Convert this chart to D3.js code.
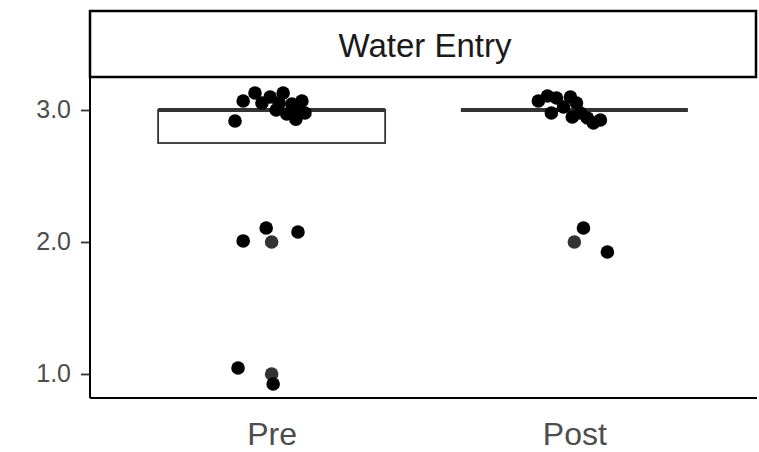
<!DOCTYPE html>
<html><head><meta charset="utf-8">
<script src="https://cdn.jsdelivr.net/npm/d3@7"></script>
<style>body{margin:0;background:#fff}svg{display:block}</style>
</head><body><svg id="c" width="759" height="452"></svg>
<script>
const categories = ["Pre", "Post"];
const stripTitle = "Water Entry";
const yTicks = [1, 2, 3];
// box stats: lower hinge, median, upper hinge
const boxLower = [2.75, 3.0];
const boxMedian = [3.0, 3.0];
const boxUpper = [3.0, 3.0];
// outliers drawn by the boxplot (at category centre)
const outlierCat = ["Pre", "Pre", "Post"];
const outlierVal = [2.0, 1.0, 2.0];
// jittered points: category, x offset (category units), jittered value
const ptCat = ["Pre","Pre","Pre","Pre","Pre","Pre","Pre","Pre","Pre","Pre","Pre","Pre","Pre","Pre",
  "Pre","Pre","Pre","Pre","Pre",
  "Post","Post","Post","Post","Post","Post","Post","Post","Post","Post","Post","Post","Post","Post"];
const ptDx = [-0.121,-0.094,-0.055,-0.032,-0.005,0.015,0.038,0.050,0.067,0.080,0.100,0.110,0.090,0.025,
  -0.094,-0.018,0.087,-0.111,0.005,
  -0.119,-0.089,-0.059,-0.076,-0.036,-0.013,0.007,0.020,0.043,0.063,0.086,-0.007,0.030,0.109];
const ptVal = [2.917,3.068,3.129,3.053,3.098,3.0,3.129,2.97,3.045,2.93,3.068,2.977,3.0,3.053,
  2.008,2.106,2.076,1.045,0.924,
  3.068,3.106,3.091,2.977,3.023,3.098,3.053,2.977,2.939,2.902,2.924,2.947,2.106,1.924];

const FONT = "Liberation Sans, Arial, sans-serif";
const svg = d3.select("#c");
const L = 90, R = 756, T = 77, B = 398, ST = 11;
const x = d3.scalePoint().domain(categories).range([L, R]).padding(0.6);
const bw = x.step() * 0.75;
const y = d3.scaleLinear().domain([0.818, 3.25]).range([B, T]);

// strip
svg.append("rect").attr("x", L).attr("y", ST).attr("width", R - L).attr("height", T - ST)
  .attr("fill", "#fff").attr("stroke", "#000").attr("stroke-width", 2.5);
svg.append("text").attr("x", (L + R) / 2 + 2).attr("y", 57)
  .attr("text-anchor", "middle").attr("font-family", FONT)
  .attr("font-size", 33).attr("fill", "#1a1a1a").text(stripTitle);

const g = svg.append("g");
// boxes
categories.forEach((c, i) => {
  const cx = x(c);
  g.append("rect").attr("x", cx - bw / 2).attr("y", y(boxUpper[i]))
    .attr("width", bw).attr("height", y(boxLower[i]) - y(boxUpper[i]))
    .attr("fill", "#fff").attr("stroke", "#333").attr("stroke-width", 1.8);
  g.append("line").attr("x1", cx - bw / 2).attr("x2", cx + bw / 2)
    .attr("y1", y(boxMedian[i])).attr("y2", y(boxMedian[i]))
    .attr("stroke", "#333").attr("stroke-width", 4);
});
// outliers
g.selectAll(".o").data(outlierVal).enter().append("circle")
  .attr("cx", (d, i) => x(outlierCat[i])).attr("cy", d => y(d)).attr("r", 6.8).attr("fill", "#333");
// jitter points
g.selectAll(".p").data(ptVal).enter().append("circle")
  .attr("cx", (d, i) => x(ptCat[i]) + ptDx[i] * x.step()).attr("cy", d => y(d))
  .attr("r", 6.8).attr("fill", "#000");

// axes
const ya = svg.append("g").attr("transform", `translate(${L},0)`)
  .call(d3.axisLeft(y).tickValues(yTicks).tickFormat(d3.format(".1f")).tickSize(9).tickPadding(10));
ya.select(".domain").remove();
ya.selectAll("line").attr("stroke", "#333").attr("stroke-width", 1.8);
ya.selectAll("text").attr("font-family", FONT).attr("font-size", 25).attr("fill", "#4d4d4d");
const xa = svg.append("g").attr("transform", `translate(0,${B})`)
  .call(d3.axisBottom(x).tickSize(0).tickPadding(0));
xa.select(".domain").remove();
xa.selectAll("text").attr("font-family", FONT).attr("font-size", 32).attr("fill", "#4d4d4d")
  .attr("y", 47).attr("dy", 0);
svg.append("line").attr("x1", L).attr("x2", L).attr("y1", T).attr("y2", B).attr("stroke", "#000").attr("stroke-width", 2);
svg.append("line").attr("x1", L).attr("x2", R + 1).attr("y1", B).attr("y2", B).attr("stroke", "#000").attr("stroke-width", 2);
</script></body></html>
